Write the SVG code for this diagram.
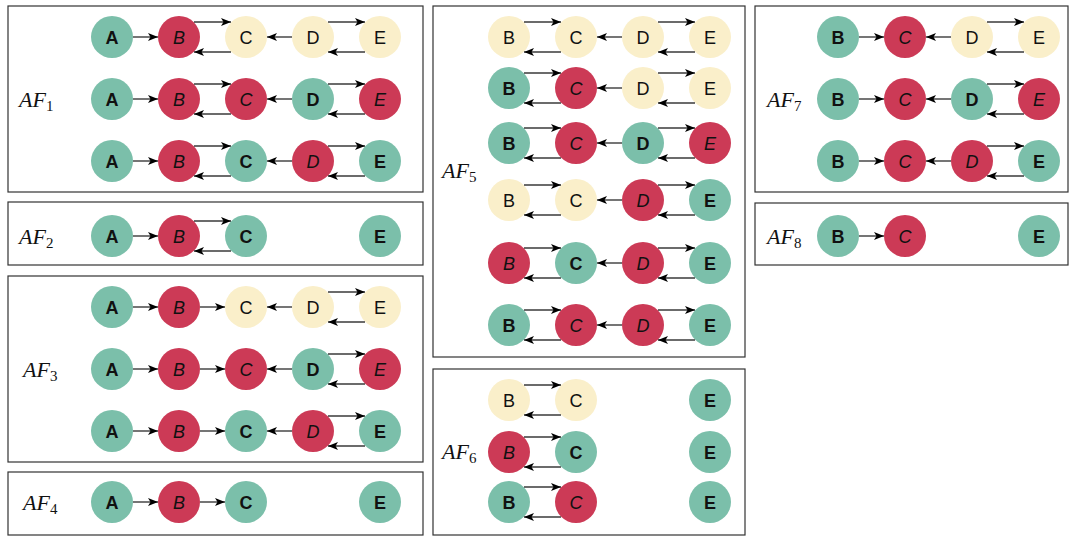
<svg xmlns="http://www.w3.org/2000/svg" width="1069" height="536" viewBox="0 0 1069 536">
  <style>
    .frame { fill: #fff; stroke: #333; stroke-width: 1.2; }
    .g { fill: #7bbfaa; }
    .r { fill: #cc3a56; }
    .y { fill: #faefca; }
    text { font-family: "Liberation Sans", Arial, sans-serif; font-size: 18px; text-anchor: middle; fill: #111; }
    .tg { font-weight: bold; }
    .tr { font-style: italic; }
    .lbl { font-family: "Liberation Serif", "Times New Roman", serif; font-style: italic; font-size: 22px; text-anchor: start; }
    .sub { font-style: normal; font-size: 15px; }
    .edge { stroke: #3a3a3a; stroke-width: 1.4; fill: none; marker-end: url(#arrow); }
  </style>
  <defs>
    <marker id="arrow" markerUnits="userSpaceOnUse" markerWidth="10" markerHeight="8" refX="10" refY="4" orient="auto">
      <path d="M0,0 L10,4 L0,8 L2.5,4 z" fill="#000"/>
    </marker>
  </defs>
  <rect width="1069" height="536" fill="#fff"/>

  <!-- panel frames -->
  <g id="frames">
    <rect class="frame" x="8" y="6" width="415" height="186"/>
    <rect class="frame" x="8" y="202" width="415" height="63"/>
    <rect class="frame" x="8" y="276" width="415" height="186"/>
    <rect class="frame" x="8" y="472" width="415" height="63"/>
    <rect class="frame" x="433" y="6" width="312" height="351"/>
    <rect class="frame" x="433" y="369" width="312" height="166"/>
    <rect class="frame" x="755" y="6" width="313" height="186"/>
    <rect class="frame" x="755" y="203" width="313" height="62"/>
  </g>

  <!-- panel labels -->
  <g id="labels">
    <text class="lbl" x="19" y="107">AF<tspan class="sub" dy="4">1</tspan></text>
    <text class="lbl" x="19" y="244">AF<tspan class="sub" dy="4">2</tspan></text>
    <text class="lbl" x="23" y="377">AF<tspan class="sub" dy="4">3</tspan></text>
    <text class="lbl" x="23" y="510">AF<tspan class="sub" dy="4">4</tspan></text>
    <text class="lbl" x="442" y="178">AF<tspan class="sub" dy="4">5</tspan></text>
    <text class="lbl" x="442" y="459">AF<tspan class="sub" dy="4">6</tspan></text>
    <text class="lbl" x="767" y="107">AF<tspan class="sub" dy="4">7</tspan></text>
    <text class="lbl" x="767" y="244">AF<tspan class="sub" dy="4">8</tspan></text>
  </g>

  <!-- AF1 -->
  <g id="af1-1-A"><circle class="g" cx="112" cy="37" r="21"/><text class="tg" x="112" y="43.5">A</text></g>
  <g id="af1-1-B"><circle class="r" cx="179" cy="37" r="21"/><text class="tr" x="179" y="43.5">B</text></g>
  <g id="af1-1-C"><circle class="y" cx="246" cy="37" r="21"/><text x="246" y="43.5">C</text></g>
  <g id="af1-1-D"><circle class="y" cx="313" cy="37" r="21"/><text x="313" y="43.5">D</text></g>
  <g id="af1-1-E"><circle class="y" cx="380" cy="37" r="21"/><text x="380" y="43.5">E</text></g>
  <g id="af1-2-A"><circle class="g" cx="112" cy="99" r="21"/><text class="tg" x="112" y="105.5">A</text></g>
  <g id="af1-2-B"><circle class="r" cx="179" cy="99" r="21"/><text class="tr" x="179" y="105.5">B</text></g>
  <g id="af1-2-C"><circle class="r" cx="246" cy="99" r="21"/><text class="tr" x="246" y="105.5">C</text></g>
  <g id="af1-2-D"><circle class="g" cx="313" cy="99" r="21"/><text class="tg" x="313" y="105.5">D</text></g>
  <g id="af1-2-E"><circle class="r" cx="380" cy="99" r="21"/><text class="tr" x="380" y="105.5">E</text></g>
  <g id="af1-3-A"><circle class="g" cx="112" cy="161" r="21"/><text class="tg" x="112" y="167.5">A</text></g>
  <g id="af1-3-B"><circle class="r" cx="179" cy="161" r="21"/><text class="tr" x="179" y="167.5">B</text></g>
  <g id="af1-3-C"><circle class="g" cx="246" cy="161" r="21"/><text class="tg" x="246" y="167.5">C</text></g>
  <g id="af1-3-D"><circle class="r" cx="313" cy="161" r="21"/><text class="tr" x="313" y="167.5">D</text></g>
  <g id="af1-3-E"><circle class="g" cx="380" cy="161" r="21"/><text class="tg" x="380" y="167.5">E</text></g>

  <!-- AF2 -->
  <g id="af2-A"><circle class="g" cx="112" cy="236" r="21"/><text class="tg" x="112" y="242.5">A</text></g>
  <g id="af2-B"><circle class="r" cx="179" cy="236" r="21"/><text class="tr" x="179" y="242.5">B</text></g>
  <g id="af2-C"><circle class="g" cx="246" cy="236" r="21"/><text class="tg" x="246" y="242.5">C</text></g>
  <g id="af2-E"><circle class="g" cx="380" cy="236" r="21"/><text class="tg" x="380" y="242.5">E</text></g>

  <!-- AF3 -->
  <g id="af3-1-A"><circle class="g" cx="112" cy="307" r="21"/><text class="tg" x="112" y="313.5">A</text></g>
  <g id="af3-1-B"><circle class="r" cx="179" cy="307" r="21"/><text class="tr" x="179" y="313.5">B</text></g>
  <g id="af3-1-C"><circle class="y" cx="246" cy="307" r="21"/><text x="246" y="313.5">C</text></g>
  <g id="af3-1-D"><circle class="y" cx="313" cy="307" r="21"/><text x="313" y="313.5">D</text></g>
  <g id="af3-1-E"><circle class="y" cx="380" cy="307" r="21"/><text x="380" y="313.5">E</text></g>
  <g id="af3-2-A"><circle class="g" cx="112" cy="369" r="21"/><text class="tg" x="112" y="375.5">A</text></g>
  <g id="af3-2-B"><circle class="r" cx="179" cy="369" r="21"/><text class="tr" x="179" y="375.5">B</text></g>
  <g id="af3-2-C"><circle class="r" cx="246" cy="369" r="21"/><text class="tr" x="246" y="375.5">C</text></g>
  <g id="af3-2-D"><circle class="g" cx="313" cy="369" r="21"/><text class="tg" x="313" y="375.5">D</text></g>
  <g id="af3-2-E"><circle class="r" cx="380" cy="369" r="21"/><text class="tr" x="380" y="375.5">E</text></g>
  <g id="af3-3-A"><circle class="g" cx="112" cy="431" r="21"/><text class="tg" x="112" y="437.5">A</text></g>
  <g id="af3-3-B"><circle class="r" cx="179" cy="431" r="21"/><text class="tr" x="179" y="437.5">B</text></g>
  <g id="af3-3-C"><circle class="g" cx="246" cy="431" r="21"/><text class="tg" x="246" y="437.5">C</text></g>
  <g id="af3-3-D"><circle class="r" cx="313" cy="431" r="21"/><text class="tr" x="313" y="437.5">D</text></g>
  <g id="af3-3-E"><circle class="g" cx="380" cy="431" r="21"/><text class="tg" x="380" y="437.5">E</text></g>

  <!-- AF4 -->
  <g id="af4-A"><circle class="g" cx="112" cy="502" r="21"/><text class="tg" x="112" y="508.5">A</text></g>
  <g id="af4-B"><circle class="r" cx="179" cy="502" r="21"/><text class="tr" x="179" y="508.5">B</text></g>
  <g id="af4-C"><circle class="g" cx="246" cy="502" r="21"/><text class="tg" x="246" y="508.5">C</text></g>
  <g id="af4-E"><circle class="g" cx="380" cy="502" r="21"/><text class="tg" x="380" y="508.5">E</text></g>

  <!-- AF5 -->
  <g id="af5-1-B"><circle class="y" cx="509" cy="37" r="21"/><text x="509" y="43.5">B</text></g>
  <g id="af5-1-C"><circle class="y" cx="576" cy="37" r="21"/><text x="576" y="43.5">C</text></g>
  <g id="af5-1-D"><circle class="y" cx="643" cy="37" r="21"/><text x="643" y="43.5">D</text></g>
  <g id="af5-1-E"><circle class="y" cx="710" cy="37" r="21"/><text x="710" y="43.5">E</text></g>
  <g id="af5-2-B"><circle class="g" cx="509" cy="88" r="21"/><text class="tg" x="509" y="94.5">B</text></g>
  <g id="af5-2-C"><circle class="r" cx="576" cy="88" r="21"/><text class="tr" x="576" y="94.5">C</text></g>
  <g id="af5-2-D"><circle class="y" cx="643" cy="88" r="21"/><text x="643" y="94.5">D</text></g>
  <g id="af5-2-E"><circle class="y" cx="710" cy="88" r="21"/><text x="710" y="94.5">E</text></g>
  <g id="af5-3-B"><circle class="g" cx="509" cy="143" r="21"/><text class="tg" x="509" y="149.5">B</text></g>
  <g id="af5-3-C"><circle class="r" cx="576" cy="143" r="21"/><text class="tr" x="576" y="149.5">C</text></g>
  <g id="af5-3-D"><circle class="g" cx="643" cy="143" r="21"/><text class="tg" x="643" y="149.5">D</text></g>
  <g id="af5-3-E"><circle class="r" cx="710" cy="143" r="21"/><text class="tr" x="710" y="149.5">E</text></g>
  <g id="af5-4-B"><circle class="y" cx="509" cy="200" r="21"/><text x="509" y="206.5">B</text></g>
  <g id="af5-4-C"><circle class="y" cx="576" cy="200" r="21"/><text x="576" y="206.5">C</text></g>
  <g id="af5-4-D"><circle class="r" cx="643" cy="200" r="21"/><text class="tr" x="643" y="206.5">D</text></g>
  <g id="af5-4-E"><circle class="g" cx="710" cy="200" r="21"/><text class="tg" x="710" y="206.5">E</text></g>
  <g id="af5-5-B"><circle class="r" cx="509" cy="263" r="21"/><text class="tr" x="509" y="269.5">B</text></g>
  <g id="af5-5-C"><circle class="g" cx="576" cy="263" r="21"/><text class="tg" x="576" y="269.5">C</text></g>
  <g id="af5-5-D"><circle class="r" cx="643" cy="263" r="21"/><text class="tr" x="643" y="269.5">D</text></g>
  <g id="af5-5-E"><circle class="g" cx="710" cy="263" r="21"/><text class="tg" x="710" y="269.5">E</text></g>
  <g id="af5-6-B"><circle class="g" cx="509" cy="325" r="21"/><text class="tg" x="509" y="331.5">B</text></g>
  <g id="af5-6-C"><circle class="r" cx="576" cy="325" r="21"/><text class="tr" x="576" y="331.5">C</text></g>
  <g id="af5-6-D"><circle class="r" cx="643" cy="325" r="21"/><text class="tr" x="643" y="331.5">D</text></g>
  <g id="af5-6-E"><circle class="g" cx="710" cy="325" r="21"/><text class="tg" x="710" y="331.5">E</text></g>

  <!-- AF6 -->
  <g id="af6-1-B"><circle class="y" cx="509" cy="400" r="21"/><text x="509" y="406.5">B</text></g>
  <g id="af6-1-C"><circle class="y" cx="576" cy="400" r="21"/><text x="576" y="406.5">C</text></g>
  <g id="af6-1-E"><circle class="g" cx="710" cy="400" r="21"/><text class="tg" x="710" y="406.5">E</text></g>
  <g id="af6-2-B"><circle class="r" cx="509" cy="452" r="21"/><text class="tr" x="509" y="458.5">B</text></g>
  <g id="af6-2-C"><circle class="g" cx="576" cy="452" r="21"/><text class="tg" x="576" y="458.5">C</text></g>
  <g id="af6-2-E"><circle class="g" cx="710" cy="452" r="21"/><text class="tg" x="710" y="458.5">E</text></g>
  <g id="af6-3-B"><circle class="g" cx="509" cy="502" r="21"/><text class="tg" x="509" y="508.5">B</text></g>
  <g id="af6-3-C"><circle class="r" cx="576" cy="502" r="21"/><text class="tr" x="576" y="508.5">C</text></g>
  <g id="af6-3-E"><circle class="g" cx="710" cy="502" r="21"/><text class="tg" x="710" y="508.5">E</text></g>

  <!-- AF7 -->
  <g id="af7-1-B"><circle class="g" cx="838" cy="37" r="21"/><text class="tg" x="838" y="43.5">B</text></g>
  <g id="af7-1-C"><circle class="r" cx="905" cy="37" r="21"/><text class="tr" x="905" y="43.5">C</text></g>
  <g id="af7-1-D"><circle class="y" cx="972" cy="37" r="21"/><text x="972" y="43.5">D</text></g>
  <g id="af7-1-E"><circle class="y" cx="1039" cy="37" r="21"/><text x="1039" y="43.5">E</text></g>
  <g id="af7-2-B"><circle class="g" cx="838" cy="99" r="21"/><text class="tg" x="838" y="105.5">B</text></g>
  <g id="af7-2-C"><circle class="r" cx="905" cy="99" r="21"/><text class="tr" x="905" y="105.5">C</text></g>
  <g id="af7-2-D"><circle class="g" cx="972" cy="99" r="21"/><text class="tg" x="972" y="105.5">D</text></g>
  <g id="af7-2-E"><circle class="r" cx="1039" cy="99" r="21"/><text class="tr" x="1039" y="105.5">E</text></g>
  <g id="af7-3-B"><circle class="g" cx="838" cy="161" r="21"/><text class="tg" x="838" y="167.5">B</text></g>
  <g id="af7-3-C"><circle class="r" cx="905" cy="161" r="21"/><text class="tr" x="905" y="167.5">C</text></g>
  <g id="af7-3-D"><circle class="r" cx="972" cy="161" r="21"/><text class="tr" x="972" y="167.5">D</text></g>
  <g id="af7-3-E"><circle class="g" cx="1039" cy="161" r="21"/><text class="tg" x="1039" y="167.5">E</text></g>

  <!-- AF8 -->
  <g id="af8-B"><circle class="g" cx="838" cy="236" r="21"/><text class="tg" x="838" y="242.5">B</text></g>
  <g id="af8-C"><circle class="r" cx="905" cy="236" r="21"/><text class="tr" x="905" y="242.5">C</text></g>
  <g id="af8-E"><circle class="g" cx="1039" cy="236" r="21"/><text class="tg" x="1039" y="242.5">E</text></g>

  <!-- attack relations -->
  <g id="connectors">
    <!-- AF1 rows: A->B, B<->C, D->C, D<->E -->
    <line class="edge" x1="133" y1="37" x2="158" y2="37"/>
    <line class="edge" x1="194" y1="22" x2="231" y2="22"/>
    <line class="edge" x1="231" y1="52" x2="194" y2="52"/>
    <line class="edge" x1="292" y1="37" x2="267" y2="37"/>
    <line class="edge" x1="328" y1="22" x2="365" y2="22"/>
    <line class="edge" x1="365" y1="52" x2="328" y2="52"/>

    <line class="edge" x1="133" y1="99" x2="158" y2="99"/>
    <line class="edge" x1="194" y1="84" x2="231" y2="84"/>
    <line class="edge" x1="231" y1="114" x2="194" y2="114"/>
    <line class="edge" x1="292" y1="99" x2="267" y2="99"/>
    <line class="edge" x1="328" y1="84" x2="365" y2="84"/>
    <line class="edge" x1="365" y1="114" x2="328" y2="114"/>

    <line class="edge" x1="133" y1="161" x2="158" y2="161"/>
    <line class="edge" x1="194" y1="146" x2="231" y2="146"/>
    <line class="edge" x1="231" y1="176" x2="194" y2="176"/>
    <line class="edge" x1="292" y1="161" x2="267" y2="161"/>
    <line class="edge" x1="328" y1="146" x2="365" y2="146"/>
    <line class="edge" x1="365" y1="176" x2="328" y2="176"/>

    <!-- AF2 -->
    <line class="edge" x1="133" y1="236" x2="158" y2="236"/>
    <line class="edge" x1="194" y1="221" x2="231" y2="221"/>
    <line class="edge" x1="231" y1="251" x2="194" y2="251"/>

    <!-- AF3 rows: A->B, B->C, D->C, D<->E -->
    <line class="edge" x1="133" y1="307" x2="158" y2="307"/>
    <line class="edge" x1="200" y1="307" x2="225" y2="307"/>
    <line class="edge" x1="292" y1="307" x2="267" y2="307"/>
    <line class="edge" x1="328" y1="292" x2="365" y2="292"/>
    <line class="edge" x1="365" y1="322" x2="328" y2="322"/>

    <line class="edge" x1="133" y1="369" x2="158" y2="369"/>
    <line class="edge" x1="200" y1="369" x2="225" y2="369"/>
    <line class="edge" x1="292" y1="369" x2="267" y2="369"/>
    <line class="edge" x1="328" y1="354" x2="365" y2="354"/>
    <line class="edge" x1="365" y1="384" x2="328" y2="384"/>

    <line class="edge" x1="133" y1="431" x2="158" y2="431"/>
    <line class="edge" x1="200" y1="431" x2="225" y2="431"/>
    <line class="edge" x1="292" y1="431" x2="267" y2="431"/>
    <line class="edge" x1="328" y1="416" x2="365" y2="416"/>
    <line class="edge" x1="365" y1="446" x2="328" y2="446"/>

    <!-- AF4 -->
    <line class="edge" x1="133" y1="502" x2="158" y2="502"/>
    <line class="edge" x1="200" y1="502" x2="225" y2="502"/>

    <!-- AF5 rows: B<->C, D->C, D<->E -->
    <line class="edge" x1="524" y1="22" x2="561" y2="22"/>
    <line class="edge" x1="561" y1="52" x2="524" y2="52"/>
    <line class="edge" x1="622" y1="37" x2="597" y2="37"/>
    <line class="edge" x1="658" y1="22" x2="695" y2="22"/>
    <line class="edge" x1="695" y1="52" x2="658" y2="52"/>

    <line class="edge" x1="524" y1="73" x2="561" y2="73"/>
    <line class="edge" x1="561" y1="103" x2="524" y2="103"/>
    <line class="edge" x1="622" y1="88" x2="597" y2="88"/>
    <line class="edge" x1="658" y1="73" x2="695" y2="73"/>
    <line class="edge" x1="695" y1="103" x2="658" y2="103"/>

    <line class="edge" x1="524" y1="128" x2="561" y2="128"/>
    <line class="edge" x1="561" y1="158" x2="524" y2="158"/>
    <line class="edge" x1="622" y1="143" x2="597" y2="143"/>
    <line class="edge" x1="658" y1="128" x2="695" y2="128"/>
    <line class="edge" x1="695" y1="158" x2="658" y2="158"/>

    <line class="edge" x1="524" y1="185" x2="561" y2="185"/>
    <line class="edge" x1="561" y1="215" x2="524" y2="215"/>
    <line class="edge" x1="622" y1="200" x2="597" y2="200"/>
    <line class="edge" x1="658" y1="185" x2="695" y2="185"/>
    <line class="edge" x1="695" y1="215" x2="658" y2="215"/>

    <line class="edge" x1="524" y1="248" x2="561" y2="248"/>
    <line class="edge" x1="561" y1="278" x2="524" y2="278"/>
    <line class="edge" x1="622" y1="263" x2="597" y2="263"/>
    <line class="edge" x1="658" y1="248" x2="695" y2="248"/>
    <line class="edge" x1="695" y1="278" x2="658" y2="278"/>

    <line class="edge" x1="524" y1="310" x2="561" y2="310"/>
    <line class="edge" x1="561" y1="340" x2="524" y2="340"/>
    <line class="edge" x1="622" y1="325" x2="597" y2="325"/>
    <line class="edge" x1="658" y1="310" x2="695" y2="310"/>
    <line class="edge" x1="695" y1="340" x2="658" y2="340"/>

    <!-- AF6 rows: B<->C -->
    <line class="edge" x1="524" y1="385" x2="561" y2="385"/>
    <line class="edge" x1="561" y1="415" x2="524" y2="415"/>
    <line class="edge" x1="524" y1="437" x2="561" y2="437"/>
    <line class="edge" x1="561" y1="467" x2="524" y2="467"/>
    <line class="edge" x1="524" y1="487" x2="561" y2="487"/>
    <line class="edge" x1="561" y1="517" x2="524" y2="517"/>

    <!-- AF7 rows: B->C, D->C, D<->E -->
    <line class="edge" x1="859" y1="37" x2="884" y2="37"/>
    <line class="edge" x1="951" y1="37" x2="926" y2="37"/>
    <line class="edge" x1="987" y1="22" x2="1024" y2="22"/>
    <line class="edge" x1="1024" y1="52" x2="987" y2="52"/>

    <line class="edge" x1="859" y1="99" x2="884" y2="99"/>
    <line class="edge" x1="951" y1="99" x2="926" y2="99"/>
    <line class="edge" x1="987" y1="84" x2="1024" y2="84"/>
    <line class="edge" x1="1024" y1="114" x2="987" y2="114"/>

    <line class="edge" x1="859" y1="161" x2="884" y2="161"/>
    <line class="edge" x1="951" y1="161" x2="926" y2="161"/>
    <line class="edge" x1="987" y1="146" x2="1024" y2="146"/>
    <line class="edge" x1="1024" y1="176" x2="987" y2="176"/>

    <!-- AF8 -->
    <line class="edge" x1="859" y1="236" x2="884" y2="236"/>
  </g>
</svg>
